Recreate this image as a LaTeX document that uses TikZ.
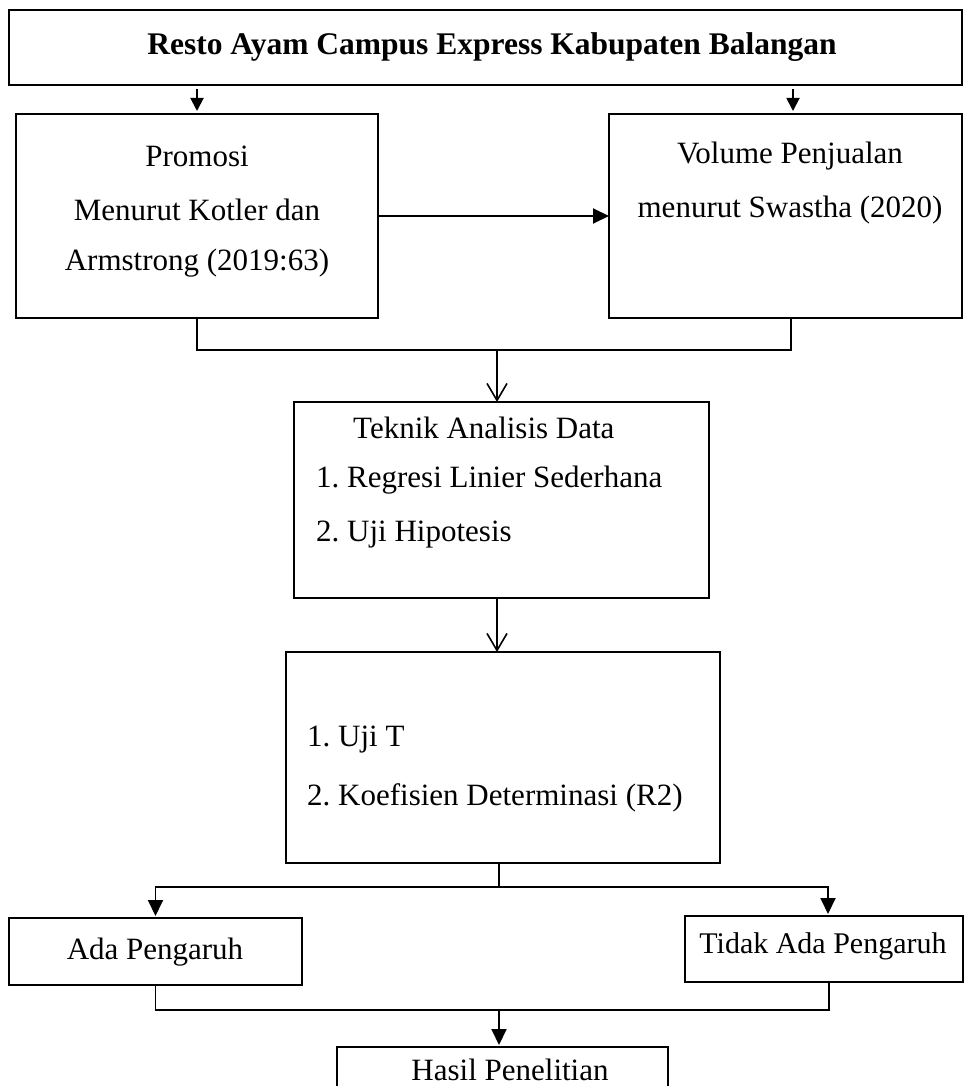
\documentclass[tikz,border=0pt]{standalone}
\usepackage{fontspec}
\setmainfont{Liberation Serif}
\usetikzlibrary{arrows.meta}
\begin{document}
\frenchspacing
\begin{tikzpicture}[x=1pt,y=-1pt,
  boxnode/.style={draw, line width=1.7pt, inner sep=0pt, outer sep=0pt, rectangle},
  txt/.style={inner sep=0pt, font=\fontsize{31}{37}\selectfont},
  line/.style={line width=1.9pt},
  arr/.style={line width=1.9pt, -{Triangle[length=16pt,width=15pt]}},
  smallarr/.style={line width=1.9pt, -{Triangle[length=13pt,width=13pt]}},
  openarr/.style={line width=1.6pt, -{Straight Barb[length=17pt,width=20pt,line width=1.6pt]}}]
\clip (0,0) rectangle (964,1086);
\fill[white] (0,0) rectangle (964,1086);
% boxes
\node[boxnode, minimum width=953pt, minimum height=75pt] (top) at (485.5,47.5) {};
\node[boxnode, minimum width=362pt, minimum height=204pt] (promosi) at (197,216) {};
\node[boxnode, minimum width=353pt, minimum height=204pt] (volume) at (785.5,216) {};
\node[boxnode, minimum width=415pt, minimum height=196pt] (teknik) at (501.5,500) {};
\node[boxnode, minimum width=434pt, minimum height=211pt] (uji) at (503,757.5) {};
\node[boxnode, minimum width=293pt, minimum height=67pt] (ada) at (155.5,951.5) {};
\node[boxnode, minimum width=278pt, minimum height=66pt] (tidak) at (824,949) {};
\node[boxnode, minimum width=331pt, minimum height=80pt] (hasil) at (502.5,1087) {};
% texts
\node[txt, font=\fontsize{31.5}{37}\selectfont\bfseries] (ttop) at (492,47) {Resto Ayam Campus Express Kabupaten Balangan};
\node[txt] (tp1) at (197,156) {Promosi};
\node[txt] (tp2) at (197,210) {Menurut Kotler dan};
\node[txt] (tp3) at (197,263) {Armstrong (2019:63)};
\node[txt] (tv1) at (790,156) {Volume Penjualan};
\node[txt] (tv2) at (790,210) {menurut Swastha (2020)};
\node[txt, anchor=west] (tt1) at (353,428) {Teknik Analisis Data};
\node[txt, anchor=west] (tt2) at (316,480) {1. Regresi Linier Sederhana};
\node[txt, anchor=west] (tt3) at (316,535) {2. Uji Hipotesis};
\node[txt, anchor=west] (tu1) at (307,740) {1. Uji T};
\node[txt, anchor=west] (tu2) at (307,798) {2. Koefisien Determinasi (R2)};
\node[txt] (ta) at (155,952) {Ada Pengaruh};
\node[txt, font=\fontsize{30}{36}\selectfont] (tti) at (823,946) {Tidak Ada Pengaruh};
\node[txt] (th) at (510,1070) {Hasil Penelitian};
% coordinates
\coordinate (j1) at (497,350);
\coordinate (j2) at (499,887);
\coordinate (j3) at (499,1010);
% connectors
\draw[smallarr, shorten <=4pt, shorten >=3pt] (top.south -| promosi.north) -- (promosi.north);
\draw[smallarr, shorten <=4pt, shorten >=3pt] ([xshift=7.5pt]top.south -| volume.north) -- ([xshift=7.5pt]volume.north);
\draw[arr] (promosi.east) -- (volume.west);
\draw[line] (promosi.south) |- (j1);
\draw[line] ([xshift=5.5pt]volume.south) |- (j1);
\draw[openarr] (j1) -- (teknik.north -| j1);
\draw[openarr] (teknik.south -| j1) -- (uji.north -| j1);
\draw[line] (uji.south -| j2) -- (j2);
\draw[arr, shorten >=2pt] (j2) -| (ada.north);
\draw[arr, shorten >=2pt] (j2) -| ([xshift=4pt]tidak.north);
\draw[line] (ada.south) |- (j3);
\draw[line] ([xshift=5pt]tidak.south) |- (j3);
\draw[arr, shorten >=2pt] (j3) -- (hasil.north -| j3);
\end{tikzpicture}
\end{document}
